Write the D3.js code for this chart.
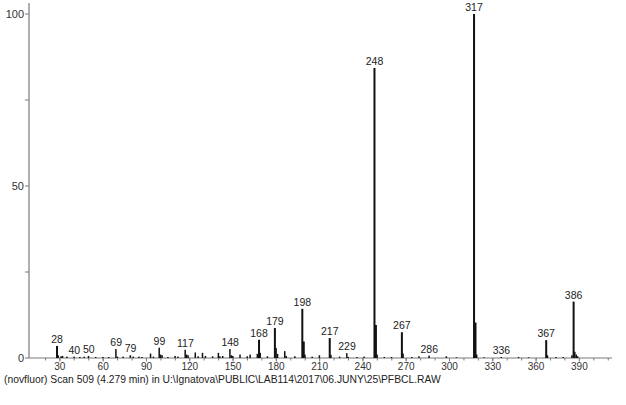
<!DOCTYPE html>
<html><head><meta charset="utf-8">
<script src="https://cdn.jsdelivr.net/npm/d3@7"></script>
<style>body{margin:0;background:#fff}svg{display:block}text{font-family:"Liberation Sans",Arial,sans-serif}</style>
</head><body><svg id="c" width="626" height="405"></svg>
<script>
const masses = [28,29,31,32,35,40,44,47,50,55,60,64,69,70,74,79,81,85,87,93,95,99,100,101,105,110,112,117,118,119,124,126,129,131,136,140,141,143,148,149,150,155,160,162,167,168,169,174,179,180,181,186,187,193,198,199,200,205,210,217,218,224,229,230,236,241,248,249,250,255,260,267,268,274,279,286,298,305,317,318,319,324,336,348,355,367,368,374,379,385,386,387,388,389];
const intensities = [3.5,0.8,0.5,0.6,0.4,0.4,0.3,0.4,0.6,0.3,0.3,0.3,2.6,0.4,0.4,0.8,0.4,0.4,0.3,1.3,0.4,3.0,1.0,0.8,0.3,0.6,0.4,2.4,1.0,0.8,1.6,0.5,1.5,0.6,0.5,1.5,0.5,0.6,2.6,0.8,0.6,1.0,0.5,1.0,1.2,5.3,1.5,0.5,8.7,2.9,1.2,2.0,0.6,0.5,14.3,4.8,1.0,0.4,0.8,5.8,0.9,0.4,1.4,0.3,0.3,0.4,84.3,9.6,1.0,0.3,0.3,7.5,1.3,0.3,0.5,0.7,0.5,0.2,100,10.3,1.0,0.2,0.3,0.3,0.2,5.2,0.8,0.3,0.3,0.8,16.4,1.8,1.0,0.5];
const labeled = [28,40,50,69,79,99,117,148,168,179,198,217,229,248,267,286,317,336,367,386];
const xTicks = [30,60,90,120,150,180,210,240,270,300,330,360,390];
const xMinor = d3.range(20,411,10);
const yTicks = [0,50,100];
const yMinor = [25,75];
const caption = "(novfluor) Scan 509 (4.279 min) in U:\\Ignatova\\PUBLIC\\LAB114\\2017\\06.JUNY\\25\\PFBCL.RAW";

const svg = d3.select("#c");
const x = d3.scaleLinear().domain([8.6,412.6]).range([29,612]);
const y = d3.scaleLinear().domain([0,100]).range([358,14]);
const axisCol = "#7a7a7a";

// y axis
svg.append("line").attr("x1",29).attr("x2",29).attr("y1",3).attr("y2",358).attr("stroke",axisCol).attr("stroke-width",1.2);
svg.selectAll(".yt").data(yTicks.concat(yMinor)).join("line")
  .attr("x1",25).attr("x2",29).attr("y1",d=>y(d)).attr("y2",d=>y(d)).attr("stroke",axisCol);
svg.selectAll(".yl").data(yTicks).join("text")
  .attr("x",24).attr("y",d=>y(d)+4).attr("text-anchor","end").attr("font-size",11).attr("fill","#333").text(d=>d);

// x axis
svg.append("line").attr("x1",29).attr("x2",612).attr("y1",358).attr("y2",358).attr("stroke",axisCol).attr("stroke-width",1.2);
svg.selectAll(".xm").data(xMinor.filter(d=>x(d)>=29 && x(d)<=612)).join("line")
  .attr("x1",d=>x(d)).attr("x2",d=>x(d)).attr("y1",358).attr("y2",360.5).attr("stroke",axisCol);
svg.selectAll(".xt").data(xTicks).join("line")
  .attr("x1",d=>x(d)).attr("x2",d=>x(d)).attr("y1",358).attr("y2",361.5).attr("stroke",axisCol);
svg.selectAll(".xl").data(xTicks).join("text")
  .attr("x",d=>x(d)).attr("y",369.5).attr("text-anchor","middle").attr("font-size",10).attr("fill","#333").text(d=>d);

// bars
const data = masses.map((m,i)=>({m, v:intensities[i]}));
svg.selectAll(".bar").data(data).join("rect")
  .attr("x",d=>x(d.m)-1).attr("width",d=>d.v>3?2:1.5)
  .attr("y",d=>y(d.v)).attr("height",d=>358-y(d.v)).attr("fill","#111");

// peak labels
svg.selectAll(".pl").data(data.filter(d=>labeled.includes(d.m))).join("text")
  .attr("x",d=>x(d.m)).attr("y",d=>y(d.v)-3).attr("text-anchor","middle")
  .attr("font-size",10.5).attr("fill","#222").text(d=>d.m);

svg.append("text").attr("x",4).attr("y",382.5).attr("font-size",10.3).attr("fill","#222").text(caption);
</script></body></html>
